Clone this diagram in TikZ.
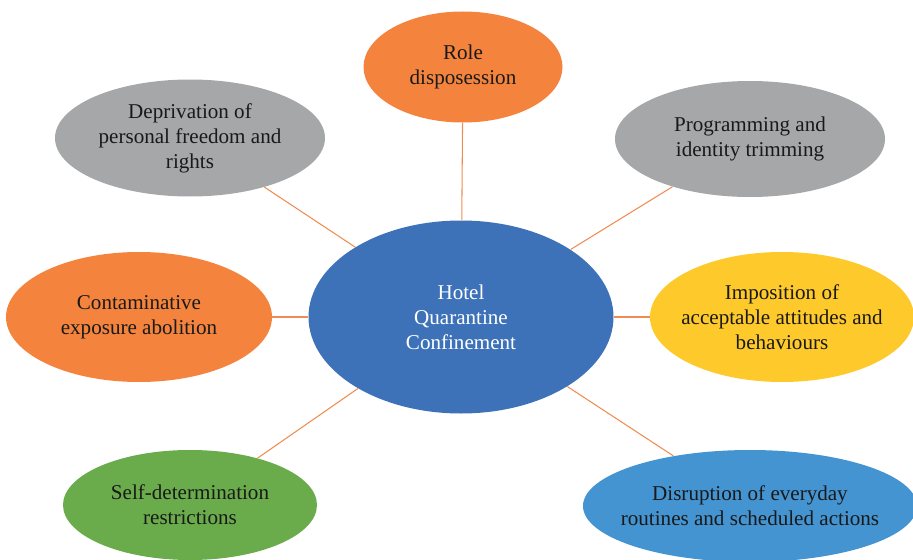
\documentclass[tikz,border=0pt]{standalone}
\usepackage{fontspec}
\setmainfont{Liberation Serif}
\usepackage{tikz}
\usetikzlibrary{shapes.geometric, positioning}
\definecolor{hqorange}{HTML}{F4843D}
\definecolor{hqgray}{HTML}{A5A7A9}
\definecolor{hqblue}{HTML}{3D72B8}
\definecolor{hqyellow}{HTML}{FEC92B}
\definecolor{hqgreen}{HTML}{6AAC4B}
\definecolor{hqsky}{HTML}{4494D1}
\definecolor{hqline}{HTML}{F08C4F}
\tikzset{
  hqbubble/.style={ellipse, inner xsep=-1cm, inner ysep=-0.3cm,
                   align=center, text=black!90,
                   font=\fontsize{12}{14.2}\selectfont},
  hqcore/.style={hqbubble, fill=hqblue, text=white},
  hqorg/.style={hqbubble, fill=hqorange},
  hqgry/.style={hqbubble, fill=hqgray},
  hqylw/.style={hqbubble, fill=hqyellow},
  hqgrn/.style={hqbubble, fill=hqgreen},
  hqsky/.style={hqbubble, fill=hqsky},
  hqlink/.style={draw=hqline, line width=0.6pt},
}

\begin{document}
\begin{tikzpicture}
    \clip (0,0) rectangle (18.26,-11.2);
    % Elipse central
    \node[hqcore, minimum width=6.1cm, minimum height=3.86cm] (core) at (9.22,-6.34)
      {Hotel\\Quarantine\\Confinement};
    % Elipses em volta
    \node[hqorg, minimum width=3.98cm, minimum height=2.22cm] (role) at (9.26,-1.34)
      {Role\\disposession};
    \node[hqgry, minimum width=5.4cm, minimum height=2.34cm] (freedom) at (3.80,-2.76)
      {Deprivation of\\personal freedom and\\rights};
    \node[hqgry, minimum width=5.4cm, minimum height=2.32cm] (program) at (15.0,-2.78)
      {Programming and\\identity trimming};
    \node[hqorg, minimum width=5.32cm, minimum height=2.6cm] (exposure) at (2.78,-6.34)
      {Contaminative\\exposure abolition};
    \node[hqylw, minimum width=5.28cm, minimum height=2.6cm] (attitude) at (15.64,-6.34)
      {Imposition of\\acceptable attitudes and\\behaviours};
    \node[hqgrn, minimum width=5.08cm, minimum height=2.2cm] (selfdet) at (3.80,-10.1)
      {Self-determination\\restrictions};
    \node[hqsky, minimum width=6.68cm, minimum height=2.24cm] (routine) at (15.0,-10.12)
      {Disruption of everyday\\routines and scheduled actions};
    % Ligacoes
    \foreach \outer in {role, freedom, program, exposure, attitude, selfdet, routine}
      \draw[hqlink] (core) -- (\outer);
\end{tikzpicture}
\end{document}
